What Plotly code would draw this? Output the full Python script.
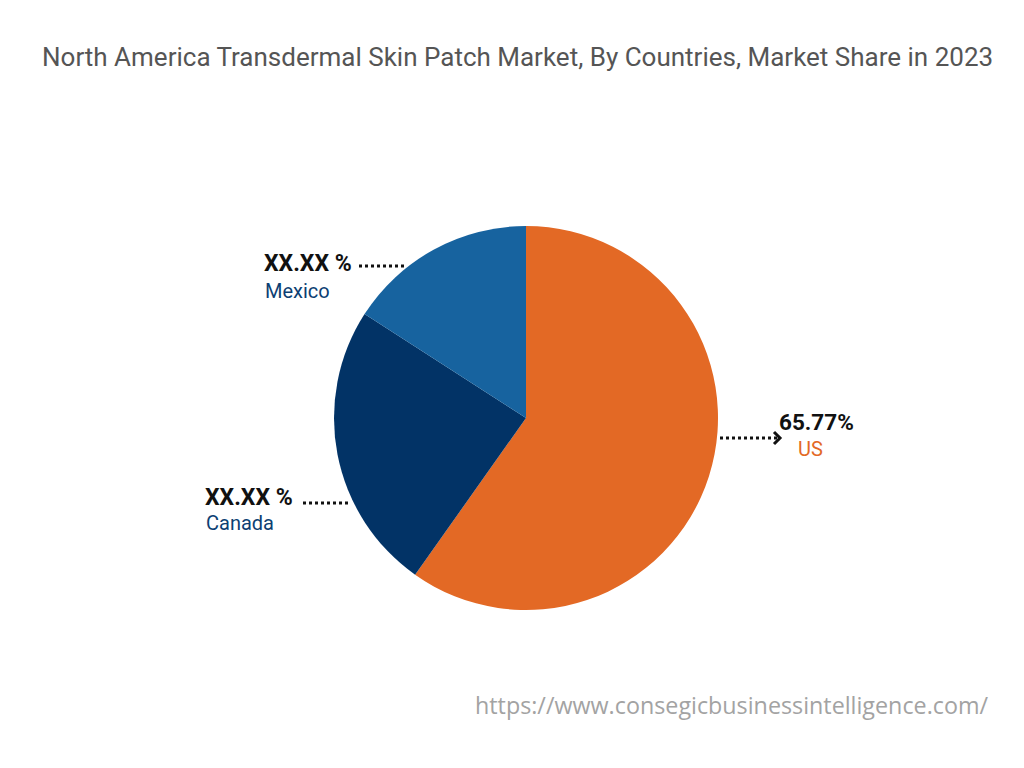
import plotly.graph_objects as go

countries = ["US", "Canada", "Mexico"]
shares = [59.8, 24.3, 15.9]
value_labels = ["65.77%", "XX.XX %", "XX.XX %"]
colors = ["#E36925", "#023366", "#17639F"]

W, H = 1024, 768
OFF = 8  # page body margin


def px_x(x):
    return (x - OFF) / W


def px_y(y):
    return 1 - (y - OFF) / H


fig = go.Figure()
fig.add_trace(go.Pie(
    labels=countries, values=shares, sort=False, direction="clockwise", rotation=0,
    marker=dict(colors=colors, line=dict(width=0)), textinfo="none", hoverinfo="label+percent",
    domain=dict(x=[px_x(334), px_x(718)], y=[px_y(610), px_y(226)]),
    showlegend=False,
))

annotations = [
    dict(x=px_x(517), y=px_y(57), text="North America Transdermal Skin Patch Market, By Countries, Market Share in 2023",
         font=dict(family="Roboto", size=26, color="#555555")),
    dict(x=px_x(990), y=px_y(705), xanchor="right", text="https://www.consegicbusinessintelligence.com/",
         font=dict(family="Open Sans", size=23.3, color="#A3A3A3")),
    # Mexico
    dict(x=px_x(262), y=px_y(264), xanchor="left", text="<b>" + value_labels[2] + "</b>",
         font=dict(family="Roboto", size=23, color="#111111")),
    dict(x=px_x(263), y=px_y(291), xanchor="left", text=countries[2],
         font=dict(family="Roboto", size=20, color="#0D3F73")),
    # Canada
    dict(x=px_x(203), y=px_y(497), xanchor="left", text="<b>" + value_labels[1] + "</b>",
         font=dict(family="Roboto", size=23, color="#111111")),
    dict(x=px_x(204), y=px_y(523), xanchor="left", text=countries[1],
         font=dict(family="Roboto", size=20, color="#0D3F73")),
    # US
    dict(x=px_x(777), y=px_y(422), xanchor="left", text="<b>" + value_labels[0] + "</b>",
         font=dict(family="Roboto", size=22.5, color="#111111")),
    dict(x=px_x(810), y=px_y(449), text=countries[0],
         font=dict(family="Roboto", size=20, color="#E36925")),
]
for a in annotations:
    a.update(xref="paper", yref="paper", showarrow=False, yanchor="middle")
    a.setdefault("xanchor", "center")

dot = dict(color="#111111", width=3, dash="dot")
shapes = [
    dict(type="line", x0=px_x(359), x1=px_x(406), y0=px_y(266), y1=px_y(266), line=dot),
    dict(type="line", x0=px_x(303), x1=px_x(351), y0=px_y(503), y1=px_y(503), line=dot),
    dict(type="line", x0=px_x(720), x1=px_x(778), y0=px_y(438), y1=px_y(438), line=dot),
    dict(type="path",
         path=f"M {px_x(774)} {px_y(432)} L {px_x(780)} {px_y(438)} L {px_x(774)} {px_y(444)}",
         line=dict(color="#111111", width=3)),
]
for s in shapes:
    s.update(xref="paper", yref="paper")

fig.update_layout(
    width=W, height=H, margin=dict(l=0, r=0, t=0, b=0),
    paper_bgcolor="white", plot_bgcolor="white",
    annotations=annotations, shapes=shapes,
)

fig.write_html("out.html")
